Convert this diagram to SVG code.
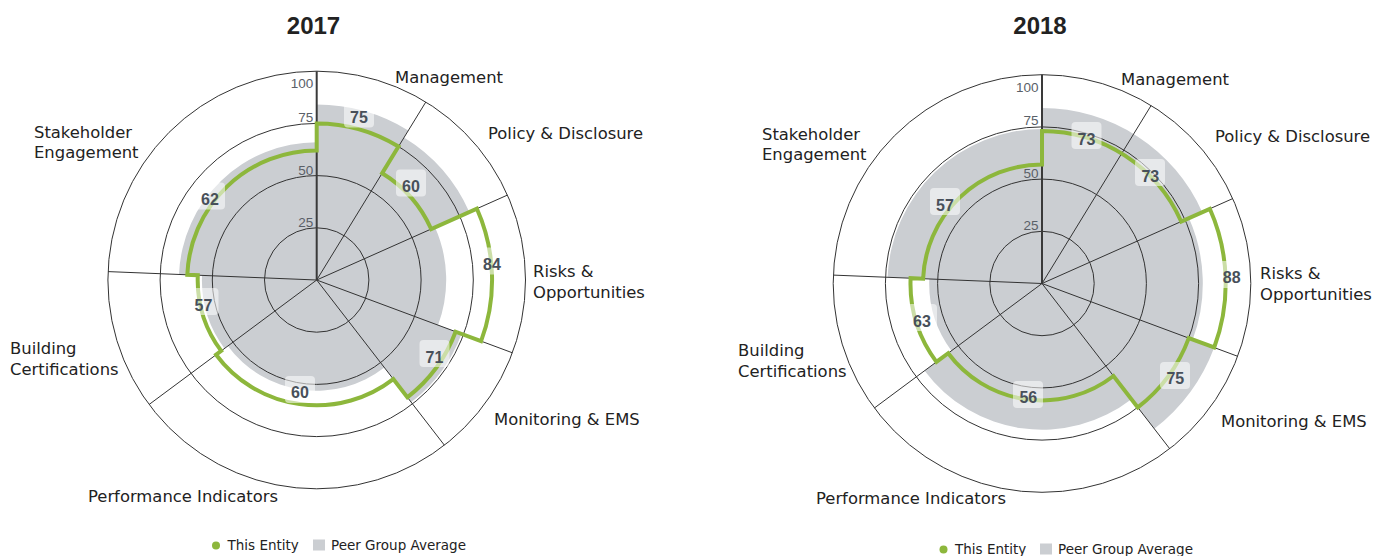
<svg xmlns="http://www.w3.org/2000/svg" width="1373" height="556" viewBox="0 0 1373 556">
<style>
.bg{fill:#ffffff}
.peer{fill:#cbced2;stroke:none}
.ring{fill:none;stroke:#333;stroke-width:1}
.sect{stroke:#333;stroke-width:1}
.axis{stroke:#3a3a3a;stroke-width:2}
.ent{fill:none;stroke:#8db73c;stroke-width:4;stroke-linejoin:miter}
.box{fill:#ffffff;fill-opacity:0.55}
.val{font-family:"Liberation Sans",Arial,sans-serif;font-weight:bold;font-size:16px;fill:#48505a;text-anchor:middle}
.tick{font-family:"Liberation Sans",Arial,sans-serif;font-size:13.5px;fill:#5a6068;text-anchor:end}
.cat{font-family:"DejaVu Sans",sans-serif;font-size:16.4px;fill:#222}
.title{font-family:"Liberation Sans",Arial,sans-serif;font-weight:bold;font-size:24px;fill:#222;text-anchor:middle}
.leg{font-family:"DejaVu Sans",sans-serif;font-size:13.5px;fill:#222}
</style>
<rect class="bg" x="0" y="0" width="1373" height="556"/>

<g id="chart2017">
  <text class="title" x="313.5" y="33.5">2017</text>
  <path class="peer" d="M316.7,104.6 A175.4,175.4 0 0 1 408.3,130.5 L404.0,137.6 A167,167 0 0 1 469.3,212.1 L435.0,227.3 A129.5,129.5 0 0 1 438.1,325.1 L461.5,333.9 A154.5,154.5 0 0 1 411.2,402.2 L384.4,367.6 A110.7,110.7 0 0 1 227.8,346.0 L224.5,348.4 A114.8,114.8 0 0 1 202.0,275.4 L179.0,274.5 A137.8,137.8 0 0 1 316.7,142.2 Z"/>
  <g id="grid2017">
    <circle class="ring" cx="316.7" cy="280" r="52.2"/>
    <circle class="ring" cx="316.7" cy="280" r="104.4"/>
    <circle class="ring" cx="316.7" cy="280" r="156.6"/>
    <circle class="ring" cx="316.7" cy="280" r="208.8"/>
  </g>
  <g id="connectors2017">
    <line class="sect" x1="316.7" y1="280" x2="425.8" y2="102.0"/>
    <line class="sect" x1="316.7" y1="280" x2="507.4" y2="195.1"/>
    <line class="sect" x1="316.7" y1="280" x2="512.4" y2="352.8"/>
    <line class="sect" x1="316.7" y1="280" x2="444.4" y2="445.2"/>
    <line class="sect" x1="316.7" y1="280" x2="149.1" y2="404.5"/>
    <line class="sect" x1="316.7" y1="280" x2="108.1" y2="271.6"/>
    <line class="axis" x1="316.7" y1="280" x2="316.7" y2="71.2"/>
  </g>
  <path class="ent" d="M316.7,123.4 A156.6,156.6 0 0 1 398.5,146.5 L382.2,173.2 A125.3,125.3 0 0 1 431.2,229.0 L476.9,208.7 A175.4,175.4 0 0 1 481.1,341.1 L455.6,331.7 A148.2,148.2 0 0 1 407.3,397.3 L393.3,379.1 A125.3,125.3 0 0 1 216.1,354.7 L221.2,350.9 A119,119 0 0 1 197.8,275.2 L187.3,274.8 A129.5,129.5 0 0 1 316.7,150.5 Z"/>
  <g id="ticks2017">
    <text class="tick" x="313.2" y="88">100</text>
    <text class="tick" x="313.2" y="121.5">75</text>
    <text class="tick" x="313.2" y="174.5">50</text>
    <text class="tick" x="313.2" y="226.5">25</text>
  </g>
  <g id="values2017">
    <g id="v17-m"><rect class="box" x="344" y="100.5" width="30" height="27" rx="4"/><text class="val" x="359" y="123.3">75</text></g>
    <g id="v17-pd"><rect class="box" x="396" y="169.5" width="30" height="27" rx="4"/><text class="val" x="411" y="192.1">60</text></g>
    <g id="v17-ro"><rect class="box" x="477" y="247.5" width="30" height="27" rx="4"/><text class="val" x="492" y="269.8">84</text></g>
    <g id="v17-me"><rect class="box" x="419.5" y="340" width="30" height="27" rx="4"/><text class="val" x="434.5" y="362.8">71</text></g>
    <g id="v17-pi"><rect class="box" x="285" y="376" width="30" height="27" rx="4"/><text class="val" x="300" y="398.3">60</text></g>
    <g id="v17-bc"><rect class="box" x="188.5" y="288" width="30" height="27" rx="4"/><text class="val" x="203.5" y="310.8">57</text></g>
    <g id="v17-se"><rect class="box" x="195" y="182.5" width="30" height="27" rx="4"/><text class="val" x="210" y="204.8">62</text></g>
  </g>
  <g id="cats2017">
    <text class="cat" x="395" y="82.5">Management</text>
    <text class="cat" x="488" y="139.3">Policy &amp; Disclosure</text>
    <text class="cat" x="533" y="277">Risks &amp;</text>
    <text class="cat" x="533" y="297.5">Opportunities</text>
    <text class="cat" x="494" y="424.5">Monitoring &amp; EMS</text>
    <text class="cat" x="88" y="501.5">Performance Indicators</text>
    <text class="cat" x="10" y="354">Building</text>
    <text class="cat" x="10" y="374.5">Certifications</text>
    <text class="cat" x="34" y="137.5">Stakeholder</text>
    <text class="cat" x="34" y="158">Engagement</text>
  </g>
  <g id="legend2017">
    <circle cx="216" cy="545.5" r="4" fill="#8db73c"/>
    <text class="leg" x="227.5" y="550">This Entity</text>
    <rect x="313" y="539.5" width="12" height="11" fill="#cbced2"/>
    <text class="leg" x="331" y="550">Peer Group Average</text>
  </g>
</g>

<g id="chart2018">
  <text class="title" x="1040" y="33.5">2018</text>
  <path class="peer" d="M1042,108.1 A175.4,175.4 0 0 1 1202.2,212.2 L1188.9,218.1 A160.8,160.8 0 0 1 1192.7,339.6 L1214.2,347.5 A183.7,183.7 0 0 1 1154.3,428.8 L1131.4,399.2 A146.2,146.2 0 0 1 924.6,370.7 L951.4,350.8 A112.8,112.8 0 0 1 929.3,279.0 L887.6,277.3 A154.5,154.5 0 0 1 1042,129.0 Z"/>
  <g id="grid2018">
    <circle class="ring" cx="1042" cy="283.5" r="52.2"/>
    <circle class="ring" cx="1042" cy="283.5" r="104.4"/>
    <circle class="ring" cx="1042" cy="283.5" r="156.6"/>
    <circle class="ring" cx="1042" cy="283.5" r="208.8"/>
  </g>
  <g id="connectors2018">
    <line class="sect" x1="1042" y1="283.5" x2="1151.1" y2="105.5"/>
    <line class="sect" x1="1042" y1="283.5" x2="1232.7" y2="198.6"/>
    <line class="sect" x1="1042" y1="283.5" x2="1237.7" y2="356.3"/>
    <line class="sect" x1="1042" y1="283.5" x2="1169.7" y2="448.7"/>
    <line class="sect" x1="1042" y1="283.5" x2="874.4" y2="408.0"/>
    <line class="sect" x1="1042" y1="283.5" x2="833.4" y2="275.1"/>
    <line class="axis" x1="1042" y1="283.5" x2="1042" y2="74.7"/>
  </g>
  <path class="ent" d="M1042,131.1 A152.4,152.4 0 0 1 1181.2,221.5 L1209.8,208.8 A183.7,183.7 0 0 1 1214.2,347.5 L1188.8,338.1 A156.6,156.6 0 0 1 1137.8,407.4 L1113.5,376.0 A116.9,116.9 0 0 1 948.2,353.2 L936.4,361.9 A131.5,131.5 0 0 1 910.6,278.2 L923.1,278.7 A119,119 0 0 1 1042,164.5 Z"/>
  <g id="ticks2018">
    <text class="tick" x="1038.5" y="91.5">100</text>
    <text class="tick" x="1038.5" y="125">75</text>
    <text class="tick" x="1038.5" y="178">50</text>
    <text class="tick" x="1038.5" y="230">25</text>
  </g>
  <g id="values2018">
    <g id="v18-m"><rect class="box" x="1071.5" y="122" width="30" height="27" rx="4"/><text class="val" x="1086.5" y="144.5">73</text></g>
    <g id="v18-pd"><rect class="box" x="1135" y="159" width="30" height="27" rx="4"/><text class="val" x="1150.3" y="181.6">73</text></g>
    <g id="v18-ro"><rect class="box" x="1216.5" y="261" width="30" height="27" rx="4"/><text class="val" x="1231.7" y="283.3">88</text></g>
    <g id="v18-me"><rect class="box" x="1160" y="362" width="30" height="27" rx="4"/><text class="val" x="1175.3" y="384.3">75</text></g>
    <g id="v18-pi"><rect class="box" x="1013" y="381" width="30" height="27" rx="4"/><text class="val" x="1028.3" y="403.3">56</text></g>
    <g id="v18-bc"><rect class="box" x="907" y="304" width="30" height="27" rx="4"/><text class="val" x="922" y="326.6">63</text></g>
    <g id="v18-se"><rect class="box" x="930" y="188" width="30" height="27" rx="4"/><text class="val" x="945" y="210.5">57</text></g>
  </g>
  <g id="cats2018">
    <text class="cat" x="1121" y="84.5">Management</text>
    <text class="cat" x="1215" y="141.5">Policy &amp; Disclosure</text>
    <text class="cat" x="1260" y="279">Risks &amp;</text>
    <text class="cat" x="1260" y="299.5">Opportunities</text>
    <text class="cat" x="1221" y="426.5">Monitoring &amp; EMS</text>
    <text class="cat" x="816" y="503.5">Performance Indicators</text>
    <text class="cat" x="738" y="356">Building</text>
    <text class="cat" x="738" y="376.5">Certifications</text>
    <text class="cat" x="762" y="139.5">Stakeholder</text>
    <text class="cat" x="762" y="160">Engagement</text>
  </g>
  <g id="legend2018">
    <circle cx="943.5" cy="549.5" r="4" fill="#8db73c"/>
    <text class="leg" x="955" y="554">This Entity</text>
    <rect x="1040" y="543.5" width="12" height="11" fill="#cbced2"/>
    <text class="leg" x="1058" y="554">Peer Group Average</text>
  </g>
</g>
</svg>
